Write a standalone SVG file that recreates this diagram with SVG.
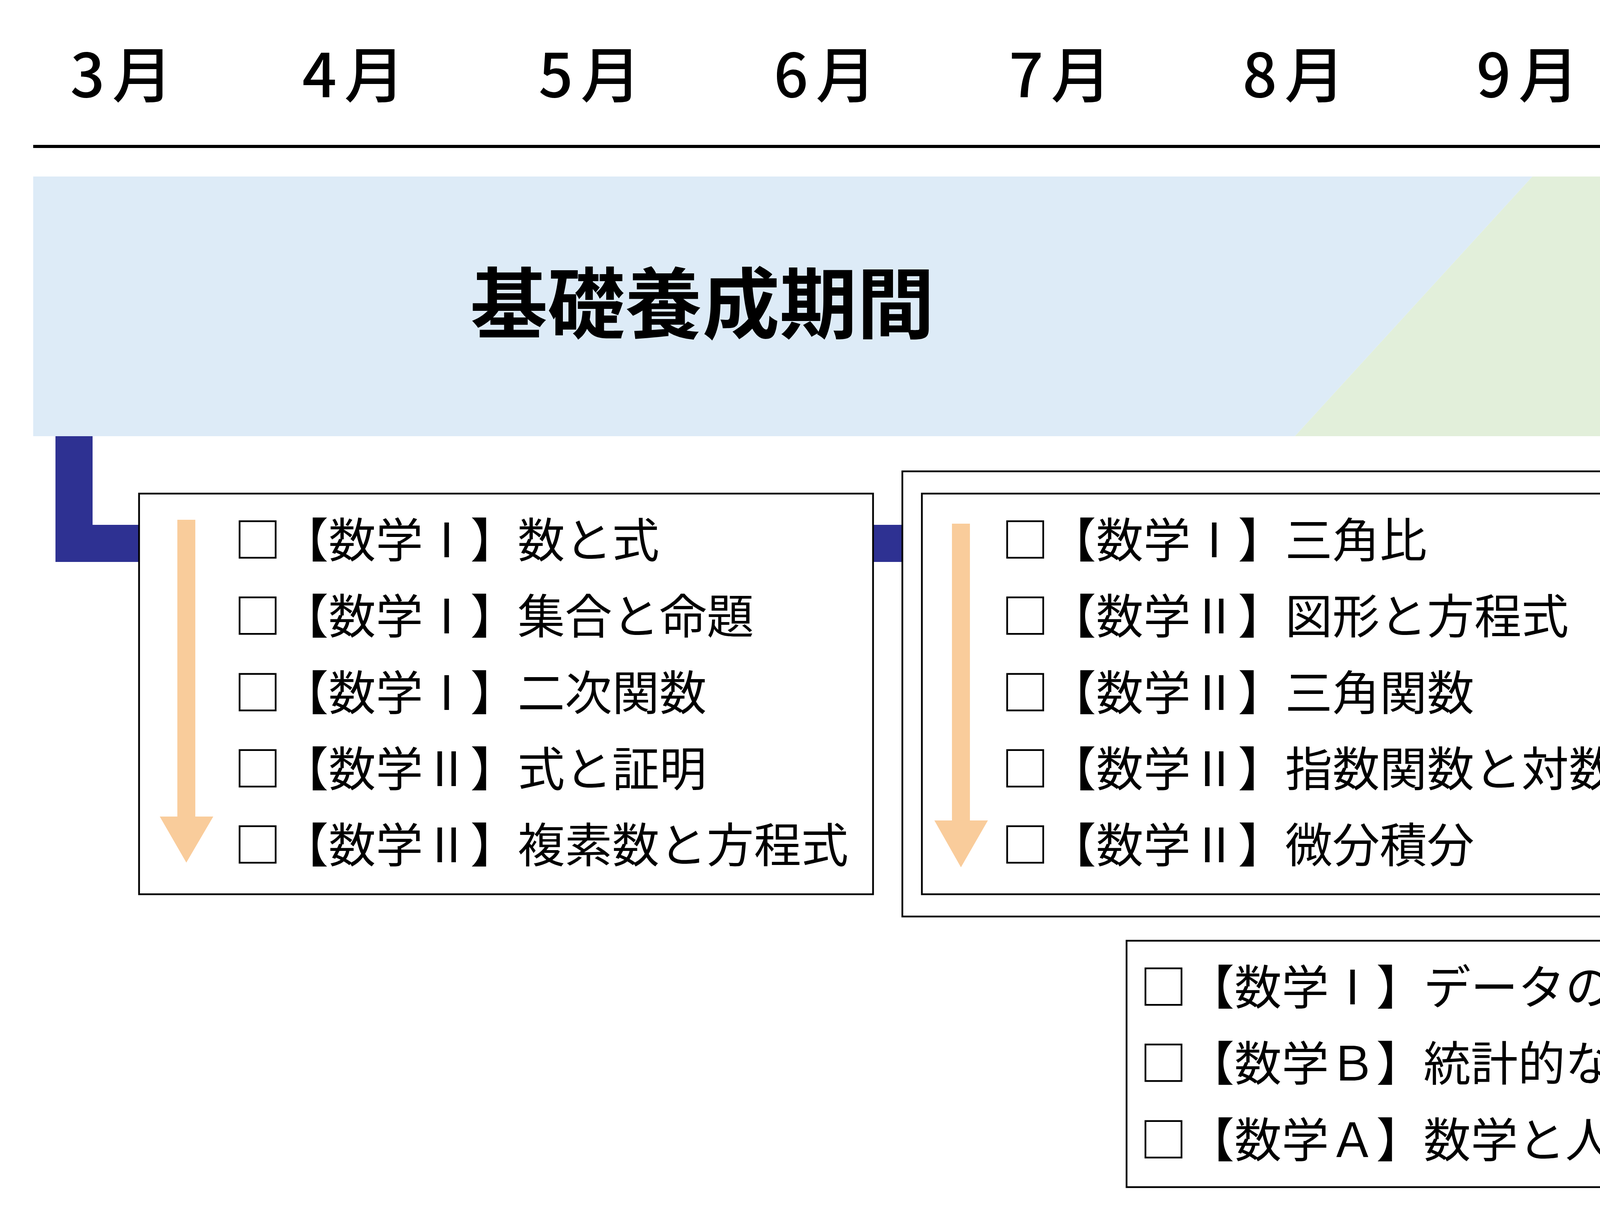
<svg xmlns="http://www.w3.org/2000/svg" width="7367" height="3096" viewBox="0 0 7367 3096">
<style>
.month{font-family:"Noto Sans CJK JP","Noto Sans",sans-serif;font-size:155px;font-weight:500;fill:#000;text-anchor:middle}
.band{font-family:"Noto Sans CJK JP",sans-serif;font-size:198px;font-weight:700;fill:#000;text-anchor:middle}
.item{font-family:"Noto Sans CJK JP",sans-serif;font-size:121px;font-weight:400;fill:#000}
.box{fill:#fff;stroke:#000;stroke-width:4.5}
.orange{fill:#F9CC9B}
.navy{fill:#2E3192}
.vert{font-family:"Noto Sans CJK JP",sans-serif;font-size:100px;font-weight:500;fill:#000;writing-mode:vertical-rl}
</style>
<rect x="0" y="0" width="7367" height="3096" fill="#fff"/>

<g id="months">
<text class="month" x="311" y="249">3<tspan dx="19">月</tspan></text>
<text class="month" x="905" y="249">4<tspan dx="19">月</tspan></text>
<text class="month" x="1510" y="249">5<tspan dx="19">月</tspan></text>
<text class="month" x="2112" y="249">6<tspan dx="19">月</tspan></text>
<text class="month" x="2714" y="249">7<tspan dx="19">月</tspan></text>
<text class="month" x="3312" y="249">8<tspan dx="19">月</tspan></text>
<text class="month" x="3911" y="249">9<tspan dx="19">月</tspan></text>
<text class="month" x="4536" y="249">10<tspan dx="19">月</tspan></text>
<text class="month" x="5208" y="249">11<tspan dx="19">月</tspan></text>
<text class="month" x="5881" y="249">12<tspan dx="19">月</tspan></text>
<text class="month" x="6549" y="249">1<tspan dx="19">月</tspan></text>
<text class="month" x="7135" y="249">2<tspan dx="19">月</tspan></text>
</g>

<g id="timeline">
<line x1="85" y1="375" x2="7232" y2="375" stroke="#000" stroke-width="8"/>
<path d="M7292,375 L7218,343 L7231,375 L7218,406 Z" fill="#000"/>
</g>

<g id="band-kiso">
<path d="M85,452 H3923 L3315,1117 H85 Z" fill="#DDEBF7"/>
<text class="band" x="1798" y="851">基礎養成期間</text>
</g>
<g id="band-jissen">
<path d="M3923,452 H6472 V1117 H3315 Z" fill="#E2EFDA"/>
<text class="band" x="5150" y="855">実践演習期間</text>
</g>
<g id="band-nyushi">
<rect x="6472" y="452" width="818" height="665" fill="#FFCCCC"/>
<text class="band" x="6891" y="856">入試</text>
</g>

<g id="connectors">
<path class="navy" d="M142,1117 H237 V1344 H6837 V1250 L7083,1392 L6837,1534 V1439 H142 Z"/>
</g>

<g id="box-basic">
<rect class="box" x="356" y="1264" width="1879" height="1026"/>
<rect class="orange" x="454" y="1331" width="46" height="762"/>
<path class="orange" d="M409,2091 H546 L477,2209 Z"/>
<text class="item" x="599" y="1427">□【数学Ⅰ】数と式</text>
<text class="item" x="599" y="1622">□【数学Ⅰ】集合と命題</text>
<text class="item" x="599" y="1818">□【数学Ⅰ】二次関数</text>
<text class="item" x="599" y="2013">□【数学Ⅱ】式と証明</text>
<text class="item" x="599" y="2208">□【数学Ⅱ】複素数と方程式</text>
</g>

<g id="box-practice">
<rect class="box" x="2310" y="1207" width="4465" height="1140"/>
</g>

<g id="box-practice-left">
<rect class="box" x="2360" y="1264" width="2090" height="1026"/>
<rect class="orange" x="2437" y="1341" width="46" height="762"/>
<path class="orange" d="M2392,2101 H2529 L2460,2221 Z"/>
<text class="item" x="2564" y="1427">□【数学Ⅰ】三角比</text>
<text class="item" x="2564" y="1622">□【数学Ⅱ】図形と方程式</text>
<text class="item" x="2564" y="1818">□【数学Ⅱ】三角関数</text>
<text class="item" x="2564" y="2013">□【数学Ⅱ】指数関数と対数関数</text>
<text class="item" x="2564" y="2208">□【数学Ⅱ】微分積分</text>
</g>

<g id="parallel">
<path d="M4508,1381 L4574,1353 L4568,1368 H4759 L4753,1353 L4819,1381 L4753,1409 L4759,1394 H4568 L4574,1409 Z" fill="#000"/>
<text class="vert" x="4670" y="1428">並行して進める</text>
</g>

<g id="box-practice-right">
<rect class="box" x="4893" y="1264" width="1800" height="808"/>
<rect class="orange" x="4992" y="1341" width="46" height="573"/>
<path class="orange" d="M4947,1912 H5083 L5015,2031 Z"/>
<text class="item" x="5095" y="1427">□【数学Ａ】図形の性質</text>
<text class="item" x="5095" y="1622">□【数学Ａ】場合の数と確率</text>
<text class="item" x="5095" y="1818">□【数学Ｂ】数列</text>
<text class="item" x="5095" y="2013">□【数学Ｃ】ベクトル</text>
</g>

<g id="box-extra">
<rect class="box" x="2884" y="2409" width="1836" height="631"/>
<text class="item" x="2918" y="2572">□【数学Ⅰ】データの分析</text>
<text class="item" x="2918" y="2767">□【数学Ｂ】統計的な推測</text>
<text class="item" x="2918" y="2963">□【数学Ａ】数学と人間の活動</text>
</g>
</svg>
